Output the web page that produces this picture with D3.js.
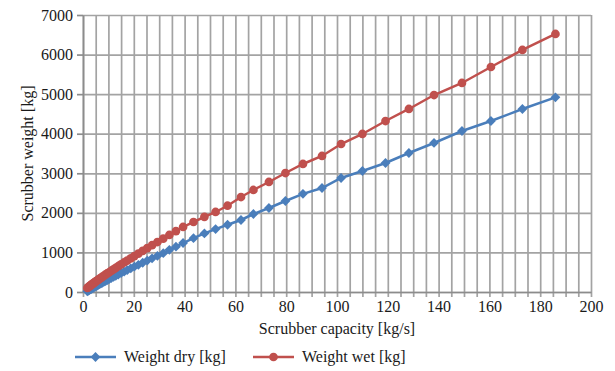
<!DOCTYPE html>
<html>
<head>
<meta charset="utf-8">
<script src="https://d3js.org/d3.v7.min.js"></script>
<style>
  body { margin: 0; background: #fff; }
  text { font-family: "Liberation Serif", "DejaVu Serif", serif; fill: #1a1a1a; }
</style>
</head>
<body>
<div id="chart-area"></div>
<script>
  // scrubber capacity [kg/s], shared by both series
  var capacity = [1.7, 2.0, 2.3, 2.6, 2.9, 3.2, 3.5, 3.8, 4.1, 4.4, 4.8, 5.2, 5.6, 6.1, 6.6, 7.1,
                  7.6, 8.2, 8.9, 9.6, 10.3, 11.1, 12.0, 12.9, 13.9, 15.0, 16.2, 17.4, 18.8, 20.2,
                  21.8, 23.5, 25.3, 27.2, 29.3, 31.6, 34.0, 36.6, 39.4, 43.5, 47.8, 52.2, 56.9,
                  62.2, 67.1, 73.2, 79.7, 86.6, 94.1, 101.6, 110, 119.1, 128.3, 138.2, 149.2,
                  160.6, 173, 186];
  var weightDry = [18, 30, 42, 53, 65, 76, 87, 99, 109, 121, 136, 149, 163, 181, 199, 216,
                   233, 254, 278, 301, 324, 350, 380, 410, 441, 477, 514, 552, 596, 639,
                   688, 739, 794, 850, 912, 980, 1065, 1145, 1238, 1360, 1480, 1590, 1700,
                   1820, 1971, 2123, 2300, 2480, 2628, 2881, 3058, 3260, 3513, 3766, 4069,
                   4321, 4625, 4920];
  var weightWet = [101, 117, 132, 147, 162, 177, 191, 206, 220, 235, 254, 272, 290, 313, 336, 359,
                   381, 408, 439, 469, 499, 533, 572, 610, 651, 697, 746, 795, 852, 908,
                   972, 1038, 1109, 1182, 1263, 1351, 1441, 1539, 1643, 1769, 1900, 2022, 2180,
                   2400, 2578, 2780, 3007, 3235, 3437, 3740, 3993, 4321, 4625, 4978, 5282,
                   5686, 6116, 6520];
  var xTicks = [0, 20, 40, 60, 80, 100, 120, 140, 160, 180, 200];
  var yTicks = [0, 1000, 2000, 3000, 4000, 5000, 6000, 7000];
  var seriesNames = ['Weight dry [kg]', 'Weight wet [kg]'];
  var seriesColors = ['#4a7ebb', '#c0504d'];

  var W = 615, H = 371;
  var margin = {left: 83, right: 24, top: 15, bottom: 79};
  var width = W - margin.left - margin.right,
      height = H - margin.top - margin.bottom;

  var svg = d3.select('#chart-area').append('svg')
      .attr('width', W).attr('height', H);
  var g = svg.append('g')
      .attr('transform', 'translate(' + margin.left + ',' + margin.top + ')');

  var x = d3.scaleLinear().domain([0, 200]).range([0, width]);
  var y = d3.scaleLinear().domain([0, 7000]).range([height, 0]);

  // Gridlines: vertical every 5 kg/s (with small stubs below the axis), horizontal every 1000 kg
  var gridColor = '#a3a3a3';
  g.append('g')
    .attr('transform', 'translate(0,' + height + ')')
    .call(d3.axisBottom(x).tickValues(d3.range(0, 201, 5)).tickSize(-height).tickSizeOuter(0).tickFormat(''))
    .call(function(s) {
      s.select('.domain').remove();
      s.selectAll('line').attr('stroke', gridColor).attr('stroke-width', 1.7).attr('y1', 5);
    });
  g.append('g')
    .call(d3.axisLeft(y).tickValues(yTicks).tickSize(-width).tickFormat(''))
    .call(function(s) {
      s.select('.domain').remove();
      s.selectAll('line').attr('stroke', gridColor).attr('stroke-width', 1.7);
    });

  // Axes
  var xAxis = g.append('g')
    .attr('transform', 'translate(0,' + height + ')')
    .call(d3.axisBottom(x).tickValues(xTicks).tickSize(0).tickPadding(9));
  xAxis.select('.domain').attr('stroke', '#8c8c8c').attr('stroke-width', 1.7);
  xAxis.selectAll('text').attr('font-size', '16px').style('font-family', '"Liberation Serif", serif');

  var yAxis = g.append('g')
    .call(d3.axisLeft(y).tickValues(yTicks).tickSize(6).tickSizeOuter(0).tickPadding(4)
      .tickFormat(d3.format('d')));
  yAxis.select('.domain').attr('stroke', '#8c8c8c').attr('stroke-width', 1.7);
  yAxis.selectAll('line').attr('stroke', '#8c8c8c').attr('stroke-width', 1.7);
  yAxis.selectAll('text').attr('font-size', '16px').style('font-family', '"Liberation Serif", serif');

  // Axis titles
  g.append('text')
    .attr('x', width / 2).attr('y', height + 42)
    .attr('text-anchor', 'middle').attr('font-size', '16px')
    .text('Scrubber capacity [kg/s]');
  g.append('text')
    .attr('transform', 'rotate(-90)')
    .attr('x', -height / 2).attr('y', -margin.left + 33)
    .attr('text-anchor', 'middle').attr('font-size', '16px')
    .text('Scrubber weight [kg]');

  // Series
  var seriesValues = [weightDry, weightWet];
  var line = d3.line()
      .x(function(d) { return x(d[0]); })
      .y(function(d) { return y(d[1]); });
  var diamond = d3.symbol().type(d3.symbolSquare).size(48);
  var circle = d3.symbol().type(d3.symbolCircle).size(60);

  function markerTransform(px, py, i) {
    return 'translate(' + px + ',' + py + ')' + (i === 0 ? ' rotate(45)' : '');
  }

  seriesValues.forEach(function(vals, i) {
    var pts = capacity.map(function(c, j) { return [c, vals[j]]; });
    g.append('path')
      .attr('fill', 'none')
      .attr('stroke', seriesColors[i])
      .attr('stroke-width', 2.5)
      .attr('d', line(pts));
    g.append('g').selectAll('path')
      .data(pts).enter().append('path')
      .attr('transform', function(d) { return markerTransform(x(d[0]), y(d[1]), i); })
      .attr('d', i === 0 ? diamond : circle)
      .attr('fill', seriesColors[i]);
  });

  // Legend
  var legendX = [75, 253];
  var legend = svg.append('g').attr('transform', 'translate(0,357)');
  seriesNames.forEach(function(name, i) {
    var row = legend.append('g').attr('transform', 'translate(' + legendX[i] + ',0)');
    row.append('line')
      .attr('x1', 0).attr('x2', 41).attr('y1', 0).attr('y2', 0)
      .attr('stroke', seriesColors[i]).attr('stroke-width', 2.5);
    row.append('path')
      .attr('transform', markerTransform(20.5, 0, i))
      .attr('d', i === 0 ? diamond : circle)
      .attr('fill', seriesColors[i]);
    row.append('text')
      .attr('x', 49).attr('y', 5)
      .attr('font-size', '16px')
      .text(name);
  });
</script>
</body>
</html>
